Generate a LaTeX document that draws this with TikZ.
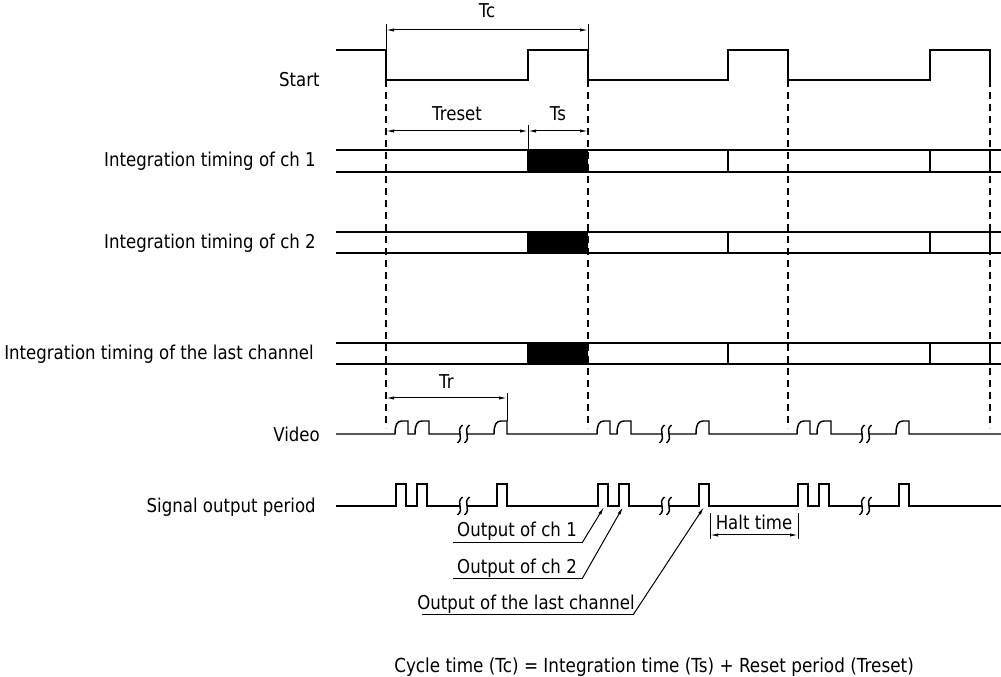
\documentclass[tikz,border=0pt]{standalone}
\usepackage{fontspec}
\setmainfont{DejaVu Sans}[FakeStretch=0.87]
\usetikzlibrary{arrows.meta}
\newcommand\wavebrk[2]{%
  \draw[sigline] (#1+2.5,#2-9) .. controls (#1-5,#2-3) and (#1+5,#2+3) .. (#1-2.5,#2+9);}
\begin{document}
\begin{tikzpicture}[x=0.75pt,y=-0.75pt,
  sigline/.style={line width=1.1pt,line join=miter},
  guide/.style={line width=0.9pt,dash pattern=on 5.5pt off 3.5pt},
  thin/.style={line width=0.75pt},
  dimarrow/.style={line width=0.75pt,{Latex[length=6pt,width=2.4pt]}-{Latex[length=6pt,width=2.4pt]}},
  leader/.style={line width=0.75pt,-{Latex[length=6pt,width=2.4pt]}},
  lbl/.style={font=\fontsize{14.3}{16}\selectfont,inner sep=0pt}]
\fill[white] (0,0) rectangle (1001,677);
\useasboundingbox (0,0) rectangle (1001,677);

% ---- row labels
\node[lbl,anchor=east] (lstart) at (320,80) {Start};
\node[lbl,anchor=east] (lch1) at (316,161) {Integration timing of ch 1};
\node[lbl,anchor=east] (lch2) at (316,243) {Integration timing of ch 2};
\node[lbl,anchor=east] (llast) at (314,354) {Integration timing of the last channel};
\node[lbl,anchor=east] (lvideo) at (320,434) {Video};
\node[lbl,anchor=east] (lsignal) at (316,507) {Signal output period};

% ---- dashed guides
\foreach \x in {386,588,788,990}
  \draw[guide] (\x,80) -- (\x,428);

% ---- Start waveform
\draw[sigline] (336,50) -- (386,50) -- (386,80) -- (528,80) -- (528,50) -- (588,50)
  -- (588,80) -- (728,80) -- (728,50) -- (788,50) -- (788,80) -- (930,80) -- (930,50)
  -- (990,50) -- (990,80);

% ---- Tc dimension
\coordinate (tcL) at (386,30);
\coordinate (tcR) at (588,30);
\draw[thin] (386,24) -- (386,50);
\draw[thin] (588,24) -- (588,50);
\draw[dimarrow] (tcL) -- (tcR) node[lbl,midway,above=9pt] (ltc) {Tc};

% ---- Treset / Ts dimension
\coordinate (trsL) at (386,131);
\coordinate (trsM) at (528,131);
\coordinate (trsR) at (588,131);
\draw[thin] (528,125) -- (528,150);
\draw[dimarrow] (trsL) -- (trsM) node[lbl,midway,above=7pt] (ltreset) {Treset};
\draw[dimarrow] (trsM) -- (trsR) node[lbl,midway,above=7pt] (lts) {Ts};

% ---- integration rows
\foreach \t/\b in {150/172,232/253,343/364}{
  \fill[black] (528,\t) rectangle (588,\b);
  \draw[sigline] (336,\t) -- (1001,\t);
  \draw[sigline] (336,\b) -- (1001,\b);
  \foreach \x in {528,728,930,990}
    \draw[sigline] (\x,\t) -- (\x,\b);
}

% ---- Tr dimension
\coordinate (trL) at (386,398);
\coordinate (trR) at (507,398);
\draw[thin] (507,393) -- (507,421);
\draw[dimarrow] (trL) -- (trR) node[lbl,midway,above=7pt] (ltr) {Tr};

% ---- Video waveform
\foreach \c/\s/\e in {386/336/588,588/588/788,788/788/1001}{
  \draw[sigline] (\s,434) -- (\c+9,434)
    .. controls (\c+9,425) and (\c+11,421) .. (\c+16,421) -- (\c+22,421) -- (\c+22,434)
    -- (\c+29,434)
    .. controls (\c+29,425) and (\c+31,421) .. (\c+36,421) -- (\c+43,421) -- (\c+43,434)
    -- (\c+74,434);
  \draw[sigline] (\c+81,434) -- (\c+108,434)
    .. controls (\c+108,425) and (\c+110,421) .. (\c+115,421) -- (\c+121,421) -- (\c+121,434)
    -- (\e,434);
  \wavebrk{\c+74}{434}
  \wavebrk{\c+81}{434}
}

% ---- Signal output waveform
\foreach \c/\s/\e in {386/336/588,588/588/788,788/788/1001}{
  \draw[sigline] (\s,506) -- (\c+10,506) -- (\c+10,484) -- (\c+20,484) -- (\c+20,506)
    -- (\c+31,506) -- (\c+31,484) -- (\c+41,484) -- (\c+41,506) -- (\c+74,506);
  \draw[sigline] (\c+81,506) -- (\c+111,506) -- (\c+111,484) -- (\c+121,484) -- (\c+121,506)
    -- (\e,506);
  \wavebrk{\c+74}{506}
  \wavebrk{\c+81}{506}
}

% ---- Halt time
\coordinate (htL) at (710,535);
\coordinate (htR) at (798,535);
\draw[thin] (710,513) -- (710,539);
\draw[thin] (798,513) -- (798,539);
\draw[dimarrow] (htL) -- (htR);
\node[lbl] (lhalt) at (754,522) {Halt time};

% ---- output labels with leaders
\node[lbl] (lo1) at (517,531) {Output of ch 1};
\node[lbl] (lo2) at (517,568) {Output of ch 2};
\node[lbl] (lo3) at (526,604) {Output of the last channel};
\coordinate (u1a) at (453,543); \coordinate (u1b) at (582,543); \coordinate (p1) at (604,507);
\coordinate (u2a) at (453,579); \coordinate (u2b) at (582,579); \coordinate (p2) at (623,507);
\coordinate (u3a) at (422,615); \coordinate (u3b) at (633,615); \coordinate (p3) at (704,507);
\draw[thin] (u1a) -- (u1b);
\draw[thin] (u2a) -- (u2b);
\draw[thin] (u3a) -- (u3b);
\draw[leader] (u1b) -- (p1);
\draw[leader] (u2b) -- (p2);
\draw[leader] (u3b) -- (p3);

% ---- formula
\node[lbl,anchor=west,font=\fontsize{14.5}{16}\selectfont] (lformula) at (394,667) {Cycle time (Tc) = Integration time (Ts) + Reset period (Treset)};
\end{tikzpicture}
\end{document}
